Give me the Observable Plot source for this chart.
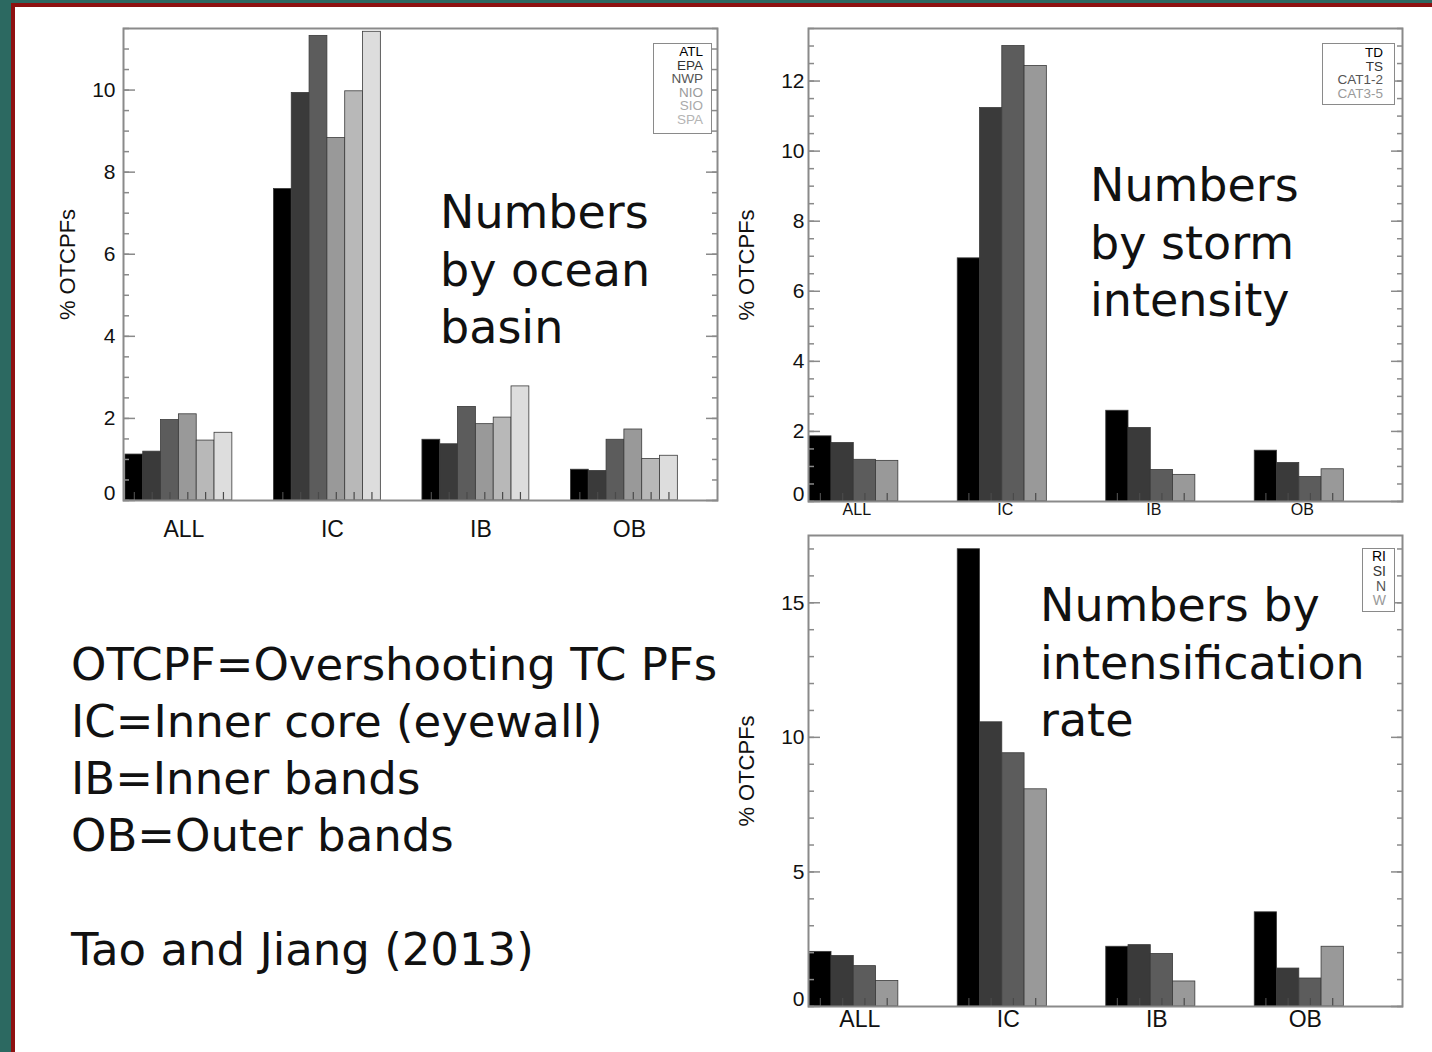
<!DOCTYPE html>
<html>
<head>
<meta charset="utf-8">
<script src="https://cdn.jsdelivr.net/npm/d3@7"></script>
<script src="https://cdn.jsdelivr.net/npm/@observablehq/plot@0.6"></script>
<style>
  html, body { margin: 0; padding: 0; }
  body { width: 1432px; height: 1052px; overflow: hidden; background: #2c6961; position: relative; }
  #sheet { position: absolute; left: 11px; top: 3px; width: 1440px; height: 1100px; background: #fff;
           border-left: 4px solid #8e1111; border-top: 4px solid #8e1111; }
  .chart { position: absolute; }
  .chart svg { background: transparent !important; overflow: visible; }
  .note { position: absolute; font-family: "DejaVu Sans", sans-serif; color: #111; white-space: pre; }
  .legend { position: absolute; border: 1.5px solid #8a8a8a; box-sizing: border-box; text-align: right;
            font-family: "Liberation Sans", Arial, sans-serif; background: #fff; }
  .legend div { white-space: pre; }
</style>
</head>
<body>
<div id="sheet"></div>
<script>
// ---------- data ----------
const groups = ["ALL", "IC", "IB", "OB"];

// Chart 1: by ocean basin
const basinNames = ["ATL", "EPA", "NWP", "NIO", "SIO", "SPA"];
const basinATL = [1.12, 7.59, 1.48, 0.75];
const basinEPA = [1.19, 9.93, 1.37, 0.72];
const basinNWP = [1.96, 11.32, 2.28, 1.48];
const basinNIO = [2.10, 8.83, 1.86, 1.73];
const basinSIO = [1.46, 9.97, 2.02, 1.01];
const basinSPA = [1.65, 11.42, 2.78, 1.09];

// Chart 2: by storm intensity
const intensityNames = ["TD", "TS", "CAT1-2", "CAT3-5"];
const intTD = [1.86, 6.94, 2.59, 1.45];
const intTS = [1.67, 11.23, 2.10, 1.10];
const intCAT12 = [1.19, 13.0, 0.90, 0.70];
const intCAT35 = [1.16, 12.43, 0.76, 0.92];

// Chart 3: by intensification rate
const rateNames = ["RI", "SI", "N", "W"];
const rateRI = [2.03, 16.99, 2.22, 3.50];
const rateSI = [1.88, 10.56, 2.28, 1.41];
const rateN = [1.50, 9.41, 1.95, 1.04];
const rateW = [0.95, 8.07, 0.93, 2.22];

const yTitle = "% OTCPFs";
const fills6 = ["#000000", "#3a3a3a", "#5c5c5c", "#999999", "#b8b8b8", "#dddddd"];
const legendColors6 = ["#000000", "#333333", "#555555", "#9a9a9a", "#aaaaaa", "#b4b4b4"];

const notes = [
  {text: "Numbers\nby ocean\nbasin", left: 440, top: 184, size: 46, lh: 57.5},
  {text: "Numbers\nby storm\nintensity", left: 1090, top: 157, size: 46, lh: 57.5},
  {text: "Numbers by\nintensification\nrate", left: 1040, top: 577, size: 46, lh: 57.5},
  {text: "OTCPF=Overshooting TC PFs\nIC=Inner core (eyewall)\nIB=Inner bands\nOB=Outer bands\n\nTao and Jiang (2013)", left: 71, top: 636, size: 45, lh: 57.0}
];

// ---------- drawing ----------
function barChart(cfg) {
  const {series, names, yMax, majorStep, minorStep, barW, pad, width, height,
         mt, mr, mb, ml, xLabelSize, xLabelDy, xLabelDx, yTitleDx, tickPad} = cfg;
  const rows = [];
  series.forEach((vals, j) => vals.forEach((v, g) => rows.push({g, j, v})));
  const left = d => d.g + pad + d.j * barW;
  const centers = rows.map(d => left(d) + barW / 2);
  const groupCenters = groups.map((_, g) => g + pad + names.length * barW / 2);
  const majors = d3.range(0, yMax + 1e-9, majorStep);
  const minors = d3.range(0, yMax + 1e-9, minorStep);
  const tickCol = "#8a8a8a";
  return Plot.plot({
    width, height, marginTop: mt, marginRight: mr, marginBottom: mb, marginLeft: ml,
    style: {background: "transparent", fontFamily: "Liberation Sans, Arial, sans-serif", color: "#111", overflow: "visible"},
    x: {domain: [0, groups.length], axis: null},
    y: {domain: [0, yMax], axis: null, label: null},
    marks: [
      Plot.rectY(rows, {x1: left, x2: d => left(d) + barW, y1: 0, y2: "v",
        fill: d => fills6[d.j], stroke: "#3a3a3a", strokeWidth: 0.8}),
      Plot.axisX(centers, {anchor: "bottom", tickSize: 8, dy: -8, fill: "none", stroke: "#4a4a4a", strokeWidth: 1.2, label: null}),
      Plot.axisY(minors, {anchor: "left", tickSize: 6, dx: 6, fill: "none", stroke: tickCol, strokeWidth: 1.5, label: null}),
      Plot.axisY(majors, {anchor: "left", tickSize: 12, dx: 12, fill: "none", stroke: tickCol, strokeWidth: 1.5, label: null}),
      Plot.axisY(minors, {anchor: "right", tickSize: 6, dx: -6, fill: "none", stroke: tickCol, strokeWidth: 1.5, label: null}),
      Plot.axisY(majors, {anchor: "right", tickSize: 12, dx: -12, fill: "none", stroke: tickCol, strokeWidth: 1.5, label: null}),
      Plot.axisY(majors.filter(v => v !== 0), {anchor: "left", tickSize: 0, tickPadding: tickPad, fontSize: 21, fill: "#111", label: null}),
      Plot.axisY([0], {anchor: "left", tickSize: 0, tickPadding: tickPad, dy: -7, fontSize: 21, fill: "#111", label: null}),
      Plot.frame({stroke: tickCol, strokeWidth: 2}),
      Plot.text(groups, {x: (d, i) => groupCenters[i], frameAnchor: "bottom", dy: xLabelDy, dx: xLabelDx,
        fontSize: xLabelSize, fill: "#111", text: d => d}),
      Plot.text([yTitle], {frameAnchor: "left", textAnchor: "middle", rotate: -90, dx: yTitleDx, fontSize: 22, fill: "#111", text: d => d})
    ]
  });
}

function place(node, left, top) {
  const wrap = document.createElement("div");
  wrap.className = "chart";
  wrap.style.left = left + "px";
  wrap.style.top = top + "px";
  wrap.appendChild(node);
  document.body.appendChild(wrap);
}

function legend(names, colors, box) {
  const el = document.createElement("div");
  el.className = "legend";
  Object.assign(el.style, {left: box.left + "px", top: box.top + "px", width: box.w + "px", height: box.h + "px",
    fontSize: box.fs + "px", lineHeight: box.lh + "px", paddingRight: box.pr + "px", paddingTop: box.pt + "px"});
  names.forEach((n, i) => {
    const d = document.createElement("div");
    d.textContent = n;
    d.style.color = colors[i];
    el.appendChild(d);
  });
  document.body.appendChild(el);
}

// Chart 1
place(barChart({
  series: [basinATL, basinEPA, basinNWP, basinNIO, basinSIO, basinSPA], names: basinNames,
  yMax: 11.5, majorStep: 2, minorStep: 0.5, barW: 0.12, pad: 0.013,
  width: 720, height: 560, mt: 18, mr: 23, mb: 70, ml: 103,
  xLabelSize: 23, xLabelDy: 36, xLabelDx: 5, yTitleDx: -56, tickPad: 8
}), 20, 10);

// Chart 2
place(barChart({
  series: [intTD, intTS, intCAT12, intCAT35], names: intensityNames,
  yMax: 13.5, majorStep: 2, minorStep: 0.5, barW: 0.15, pad: 0.005,
  width: 700, height: 520, mt: 18, mr: 18, mb: 29, ml: 88,
  xLabelSize: 16, xLabelDy: 13, xLabelDx: 3, yTitleDx: -62, tickPad: 4
}), 720, 10);

// Chart 3
place(barChart({
  series: [rateRI, rateSI, rateN, rateW], names: rateNames,
  yMax: 17.5, majorStep: 5, minorStep: 1, barW: 0.15, pad: 0.005,
  width: 700, height: 515, mt: 5, mr: 18, mb: 39, ml: 88,
  xLabelSize: 23, xLabelDy: 20, xLabelDx: 6, yTitleDx: -62, tickPad: 4
}), 720, 530);

legend(basinNames, legendColors6, {left: 653, top: 43, w: 59, h: 91, fs: 13.5, lh: 13.5, pr: 8, pt: 1});
legend(intensityNames, legendColors6, {left: 1322, top: 43, w: 73, h: 62, fs: 13.5, lh: 13.5, pr: 11, pt: 2});
legend(rateNames, legendColors6, {left: 1362, top: 548, w: 33, h: 64, fs: 14, lh: 14.8, pr: 8, pt: 0});

notes.forEach(n => {
  const el = document.createElement("div");
  el.className = "note";
  el.textContent = n.text;
  Object.assign(el.style, {left: n.left + "px", top: n.top + "px", fontSize: n.size + "px", lineHeight: n.lh + "px"});
  document.body.appendChild(el);
});
</script>
</body>
</html>
